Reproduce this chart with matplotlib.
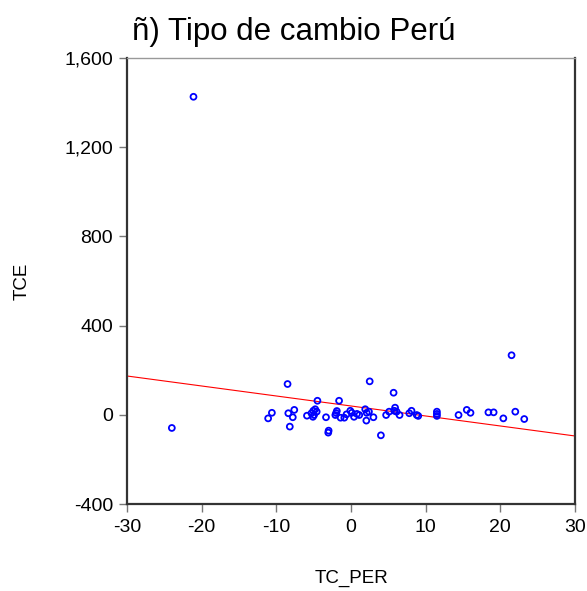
import numpy as np
import matplotlib
matplotlib.use("Agg")
import matplotlib.pyplot as plt
from matplotlib.ticker import FuncFormatter

plt.rcParams['font.family'] = ['Liberation Sans', 'DejaVu Sans']
plt.rcParams['axes.unicode_minus'] = False

# TC_PER (x) y TCE (y)
tc_per = [-21.1, -24.0, 21.5,
          -8.5, 2.5, 5.7, -4.5, -1.6,
          -10.6, -11.1, -8.4, -7.6, -7.8, -8.2, -5.9,
          -5.3, -5.05, -4.8, -4.6, -5.1, -4.95,
          -3.35, -2.1, -1.9, -2.0, -3.0, -3.05, -1.4, -0.9,
          -0.6, -0.1, 0.1, 0.4, 0.8, 1.1,
          1.9, 2.1, 2.4, 2.05, 3.0, 4.0,
          4.7, 5.1, 5.9, 5.8, 6.1, 6.5,
          7.8, 8.1, 8.8, 9.0,
          11.5, 11.5, 11.5, 14.4, 15.5, 16.0,
          18.4, 19.1, 20.4, 22.0, 23.2]
tce = [1426, -59, 267,
       138, 150, 99, 63, 63,
       9, -16, 7, 22, -11, -53, -4,
       7, 18, 25, 14, -9, -1,
       -11, -1, 17, 8, -71, -80, -13, -13,
       2, 18, 9, -9, 4, -1,
       25, 9, 14, -26, -11, -92,
       -1, 14, 32, 18, 14, -1,
       7, 18, -1, -5,
       14, 4, -5, -1, 22, 9,
       11, 11, -16, 14, -19]

# recta de regresion (extremos)
fit_x = [-30, 30]
fit_y = [174, -95]

fig = plt.figure(figsize=(5.87, 5.91), dpi=100)
ax = fig.add_axes([0.2164, 0.1472, 0.7632, 0.7547])

ax.scatter(tc_per, tce, s=18, facecolors='none', edgecolors='#0000ff', linewidths=1.3, zorder=3)
ax.plot(fit_x, fit_y, color='#ff0000', linewidth=0.8, zorder=2)

ax.set_xlim(-30, 30)
ax.set_ylim(-400, 1600)
ax.set_xticks([-30, -20, -10, 0, 10, 20, 30])
ax.set_yticks([-400, 0, 400, 800, 1200, 1600])
ax.yaxis.set_major_formatter(FuncFormatter(lambda v, p: f"{int(v):,}"))

for s in ['left', 'bottom', 'right']:
    ax.spines[s].set_color('#333333')
    ax.spines[s].set_linewidth(1.6)
ax.spines['top'].set_color('#999999')
ax.spines['top'].set_linewidth(1.0)

ax.tick_params(axis='both', direction='out', length=6, width=1, color='#777777',
               labelsize=14, labelcolor='#000000', pad=4)
ax.tick_params(axis='x', pad=5)

ax.set_xlabel('TC_PER', fontsize=13.5, labelpad=24)
ax.set_ylabel('TCE', fontsize=13.5, labelpad=24)
ax.set_title('ñ) Tipo de cambio Perú', fontsize=22.5, pad=13, x=0.372)

fig.savefig('out.png', dpi=100)
